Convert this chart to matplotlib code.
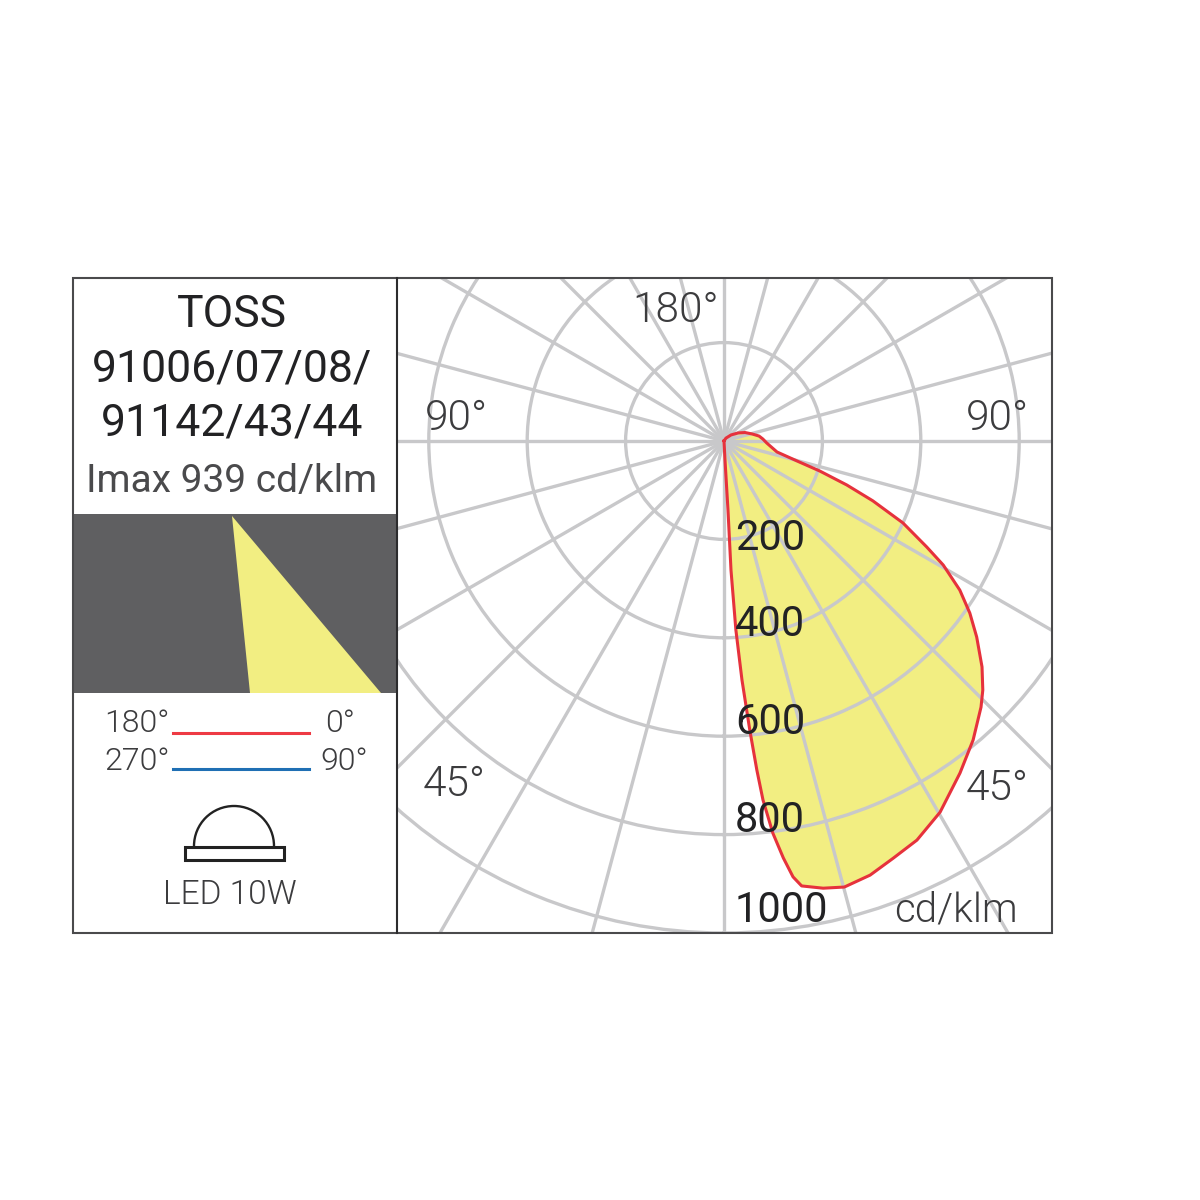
import numpy as np
from matplotlib import pyplot as plt
from matplotlib.patches import Arc, Polygon, Rectangle

plt.rcParams["font.family"] = ["Roboto", "Liberation Sans", "DejaVu Sans"]
plt.rcParams["font.weight"] = 300

# red curve, angle from straight down and cd/klm
curve_angles = [0, 146, 130.6, 119.7, 112, 104, 98, 93, 87.3, 78.3, 74.7, 72.6, 70.3, 68.1, 65.4,
                62.4, 60.5, 57.7, 55, 52.2, 48.8, 46.1, 44, 39.8, 35.4, 30.2, 25.8, 22.1, 18.6,
                15.1, 12.5, 9.9, 9, 8.1, 7.1, 6.2, 5.7, 5.1, 4.3, 3.6, 3.1, 3.3, 3, 0]
curve_values = [0, 7, 19, 33, 46, 59, 72, 79, 87, 110, 154, 204, 265, 326, 400,
                465, 512, 567, 610, 650, 697, 730, 752, 791, 828, 873, 901, 915, 931,
                939, 931, 918, 897, 856, 803, 734, 672, 590, 487, 385, 263, 140, 39, 0]

radial_ticks = [200, 400, 600, 800, 1000]
spoke_angles = np.arange(0, 360, 15)
title_lines = ["TOSS", "91006/07/08/", "91142/43/44", "Imax 939 cd/klm"]

GRID = "#c8c8ca"
RED = "#e6323c"
YELLOW = "#f2ee82"
TEXT = "#3c3c3e"
FRAME = "#4a4a4c"

cx, cy = 724, 441  # pixel position of the pole
px_per_unit = 98.4 / 200
polar_radius = 600

fig = plt.figure(figsize=(12, 12), dpi=100, facecolor="white")

ax = fig.add_axes(
    [(cx - polar_radius) / 1200, (1200 - cy - polar_radius) / 1200, polar_radius / 600, polar_radius / 600],
    projection="polar",
    zorder=1,
)
ax.set_theta_zero_location("S")
ax.set_theta_direction(1)
ax.set_rlim(0, polar_radius / px_per_unit)
ax.set_thetagrids(spoke_angles, labels=[])
ax.set_rgrids(radial_ticks, labels=[])
ax.spines["polar"].set_visible(False)
ax.patch.set_visible(False)
ax.set_axisbelow(False)
ax.tick_params(length=0)
ax.grid(True, color=GRID, linewidth=2.4)

theta = np.deg2rad(curve_angles)
ax.fill(theta, curve_values, color=YELLOW, linewidth=0, zorder=1)
ax.plot(theta, curve_values, color=RED, linewidth=2.2, zorder=3, solid_joinstyle="round")

# the grid only shows inside the right hand panel
clip = Rectangle((398 / 1200, (1200 - 933) / 1200), 654 / 1200, 655 / 1200, transform=fig.transFigure)
ax.xaxis.set_clip_path(clip)
ax.yaxis.set_clip_path(clip)

# overlay in pixel coordinates for the panels and all text
ov = fig.add_axes([0, 0, 1, 1], zorder=2)
ov.set_xlim(0, 1200)
ov.set_ylim(1200, 0)
ov.axis("off")

ov.add_patch(Rectangle((73, 514), 324, 179, facecolor="#5f5f61", edgecolor="none"))
ov.add_patch(Polygon([(232, 516), (250, 693), (381, 693)], facecolor=YELLOW, edgecolor="none"))
ov.add_patch(Rectangle((73, 278), 979, 655, facecolor="none", edgecolor=FRAME, linewidth=1.5))
ov.plot([397, 397], [278, 933], color="#2c2c2e", linewidth=1.5)

for text, y, size, color in zip(title_lines, [315, 370, 424, 481], [32, 32, 32, 28],
                                ["#222224", "#222224", "#222224", "#4a4a4c"]):
    ov.text(232, y, text, ha="center", va="center", fontsize=size, color=color, weight=400)

ov.text(137, 724, "180°", ha="center", va="center", fontsize=23, color=TEXT)
ov.text(340, 724, "0°", ha="center", va="center", fontsize=23, color=TEXT)
ov.text(137, 762, "270°", ha="center", va="center", fontsize=23, color=TEXT)
ov.text(344, 762, "90°", ha="center", va="center", fontsize=23, color=TEXT)
ov.plot([173, 309], [733, 733], color="#ee3a44", linewidth=2.2)
ov.plot([173, 309], [769, 769], color="#1f6fb4", linewidth=2.2)

ov.add_patch(Arc((234, 846), 80, 80, theta1=180, theta2=360, color="#222222", linewidth=1.7))
ov.add_patch(Rectangle((185, 847), 99, 13, facecolor="white", edgecolor="#222222", linewidth=2.2))
ov.text(230, 895, "LED 10W", ha="center", va="center", fontsize=24, color=TEXT)

for text, x, y in [("180°", 676, 311), ("90°", 456, 418), ("90°", 997, 418), ("45°", 454, 785), ("45°", 997, 789)]:
    ov.text(x, y, text, ha="center", va="center", fontsize=30.5, color=TEXT)

for value, x, y in zip(radial_ticks, [735, 735, 735, 735, 735], [539, 625, 722, 821, 910]):
    ov.text(x, y, str(value), ha="left", va="center", fontsize=30, color="#222224", weight=400)
ov.text(956, 910, "cd/klm", ha="center", va="center", fontsize=29, color=TEXT)

fig.savefig("out.png", dpi=100)
